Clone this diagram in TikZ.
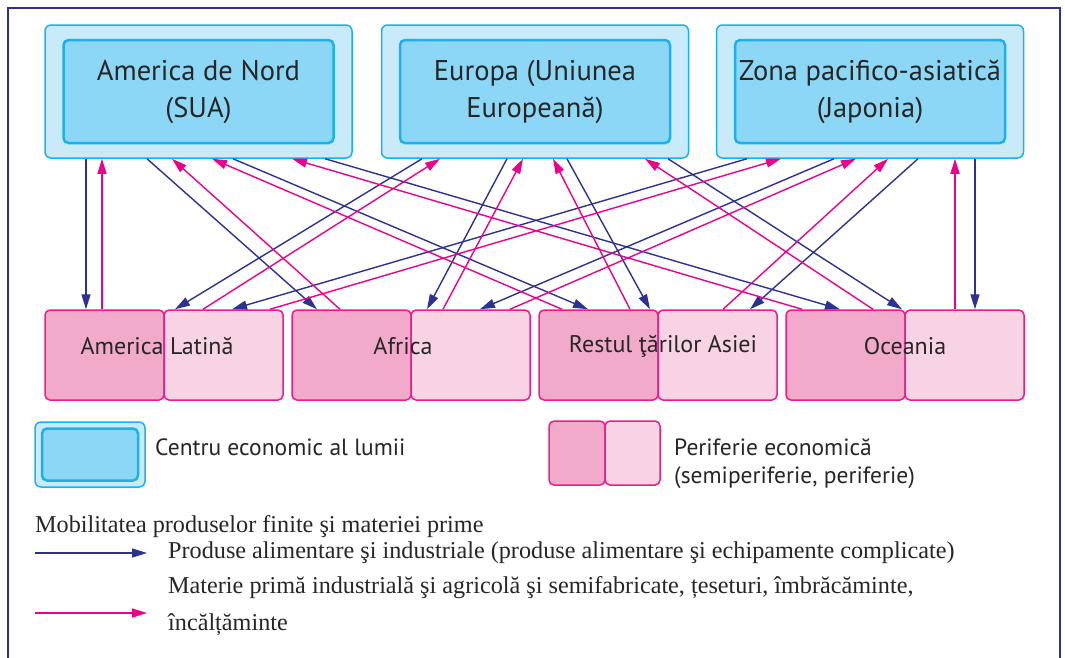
\documentclass[tikz,border=0pt]{standalone}
\usepackage{fontspec}
\setmainfont{Liberation Serif}
\newfontfamily\boxfont{PT Sans}
\usetikzlibrary{arrows.meta}

\definecolor{cenout}{HTML}{C8EAF9}
\definecolor{cenin}{HTML}{8DD7F6}
\definecolor{cenline}{HTML}{1BB1E9}
\definecolor{perdark}{HTML}{F2AACB}
\definecolor{perlight}{HTML}{F7D3E4}
\definecolor{perline}{HTML}{EC1C8C}
\definecolor{flowblue}{HTML}{2E3192}
\definecolor{flowpink}{HTML}{EC008C}

\tikzset{
  outerbox/.style={draw=cenline, fill=cenout, line width=1.5pt, rounded corners=6pt,
    minimum width=307pt, minimum height=133pt, inner sep=0pt},
  innerbox/.style={draw=cenline, fill=cenin, line width=2.5pt, rounded corners=5pt,
    minimum width=270pt, minimum height=103pt, inner sep=0pt, align=center,
    font=\boxfont\fontsize{28.5}{37}\selectfont, text=black!85},
  darkbox/.style={draw=perline, fill=perdark, line width=1.5pt, rounded corners=5pt,
    minimum width=119pt, minimum height=90pt, inner sep=0pt},
  lightbox/.style={darkbox, fill=perlight},
  zonelabel/.style={font=\boxfont\fontsize{24}{28}\selectfont, text=black!85, inner sep=0pt},
  legendtext/.style={font=\boxfont\fontsize{23.5}{28}\selectfont, text=black!85, inner sep=0pt, align=left},
  serif/.style={font=\fontsize{24.2}{37}\selectfont, text=black!85, inner sep=0pt, align=left},
  blueflow/.style={draw=flowblue, line width=1.4pt, -{Triangle[length=15pt,width=9pt]}},
  pinkflow/.style={draw=flowpink, line width=1.4pt, -{Triangle[length=15pt,width=9pt]}}
}

\begin{document}
\begin{tikzpicture}[x=1pt, y=-1pt]
  \useasboundingbox (0,0) rectangle (1065,657);
  \draw[flowblue, line width=2.5pt] (8,670) |- (1060,8) -- (1060,670);

  \node[outerbox] (nord) at (198.5,91.5) {};
  \node[outerbox] (euro) at (535,91.5) {};
  \node[outerbox] (japo) at (870,91.5) {};
  \node[innerbox] (nordi) at (nord) {America de Nord\\(SUA)};
  \node[innerbox] (euroi) at (euro) {Europa (Uniunea\\Europeană)};
  \node[innerbox] (japoi) at (japo) {Zona pacifico-asiatică\\(Japonia)};

  \node[darkbox]  (latd) at (104.5,355) {};
  \node[lightbox] (latl) at (223.5,355) {};
  \node[darkbox]  (afrd) at (351.5,355) {};
  \node[lightbox] (afrl) at (470.5,355) {};
  \node[darkbox]  (asid) at (598.5,355) {};
  \node[lightbox] (asil) at (717.5,355) {};
  \node[darkbox]  (ocnd) at (845.5,355) {};
  \node[lightbox] (ocnl) at (964.5,355) {};
  \node[zonelabel] (lat) at (157,346) {America Latină};
  \node[zonelabel] (afr) at (403,346) {Africa};
  \node[zonelabel] (asi) at (663,346) {Restul ţărilor Asiei};
  \node[zonelabel] (ocn) at (905,346) {Oceania};

  \begin{scope}[blueflow]
    \draw ([xshift=-112.5pt]nord.south) to ([xshift=-18.5pt]latd.north);
    \draw ([xshift=-51.5pt]nord.south) to ([xshift=-34.5pt]afrd.north);
    \draw ([xshift=34.5pt]nord.south) to ([xshift=-10.5pt]asid.north);
    \draw ([xshift=126.5pt]nord.south) to ([xshift=-5.5pt]ocnd.north);
    \draw ([xshift=-113pt]euro.south) to ([xshift=-48.5pt]latl.north);
    \draw ([xshift=-28pt]euro.south) to ([xshift=-43.5pt]afrl.north);
    \draw ([xshift=32pt]euro.south) to ([xshift=51.5pt]asid.north);
    \draw ([xshift=133pt]euro.south) to ([xshift=56.5pt]ocnd.north);
    \draw ([xshift=-123pt]japo.south) to ([xshift=8.5pt]latl.north);
    \draw ([xshift=-36pt]japo.south) to ([xshift=9.5pt]afrl.north);
    \draw ([xshift=48pt]japo.south) to ([xshift=32.5pt]asil.north);
    \draw ([xshift=105pt]japo.south) to ([xshift=10.5pt]ocnl.north);
  \end{scope}
  \begin{scope}[pinkflow]
    \draw ([xshift=-2.5pt]latd.north) to ([xshift=-96.5pt]nord.south);
    \draw ([xshift=-11.5pt]afrd.north) to ([xshift=-26.5pt]nord.south);
    \draw ([xshift=-36.5pt]asid.north) to ([xshift=13.5pt]nord.south);
    \draw ([xshift=-43.5pt]ocnd.north) to ([xshift=93.5pt]nord.south);
    \draw ([xshift=-20.5pt]latl.north) to ([xshift=-95pt]euro.south);
    \draw ([xshift=-27.5pt]afrl.north) to ([xshift=-12pt]euro.south);
    \draw ([xshift=31.5pt]asid.north) to ([xshift=18pt]euro.south);
    \draw ([xshift=27.5pt]ocnd.north) to ([xshift=110pt]euro.south);
    \draw ([xshift=46.5pt]latl.north) to ([xshift=-89pt]japo.south);
    \draw ([xshift=39.5pt]afrl.north) to ([xshift=-14pt]japo.south);
    \draw ([xshift=5.5pt]asil.north) to ([xshift=18pt]japo.south);
    \draw ([xshift=-9.5pt]ocnl.north) to ([xshift=85pt]japo.south);
  \end{scope}

  \node[outerbox, minimum width=110pt, minimum height=65pt] (keycen) at (90,454.5) {};
  \node[innerbox, minimum width=96pt, minimum height=52pt] (keyceni) at (keycen) {};
  \node[legendtext, anchor=base west] (keycentext) at (155,455) {Centru economic al lumii};
  \node[darkbox, minimum width=56pt, minimum height=64pt] (keyperd) at (577,453) {};
  \node[lightbox, minimum width=55pt, minimum height=64pt] (keyperl) at (632.5,453) {};
  \node[legendtext, anchor=base west] (keypertext) at (674,483) {Periferie economică\\(semiperiferie, periferie)};

  \node[serif, anchor=base west] (mobil) at (35,532) {Mobilitatea produselor finite şi materiei prime};
  \coordinate (keyb0) at (35,553);
  \coordinate (keyb1) at (147,553);
  \draw[blueflow] (keyb0) -- (keyb1);
  \node[serif, anchor=base west] (prodtext) at (168,558) {Produse alimentare şi industriale (produse alimentare şi echipamente complicate)};
  \coordinate (keyp0) at (35,613);
  \coordinate (keyp1) at (147,613);
  \draw[pinkflow] (keyp0) -- (keyp1);
  \node[serif, anchor=base west] (mattext) at (168,630) {Materie primă industrială şi agricolă şi semifabricate, țeseturi, îmbrăcăminte,\\încălțăminte};
\end{tikzpicture}
\end{document}
